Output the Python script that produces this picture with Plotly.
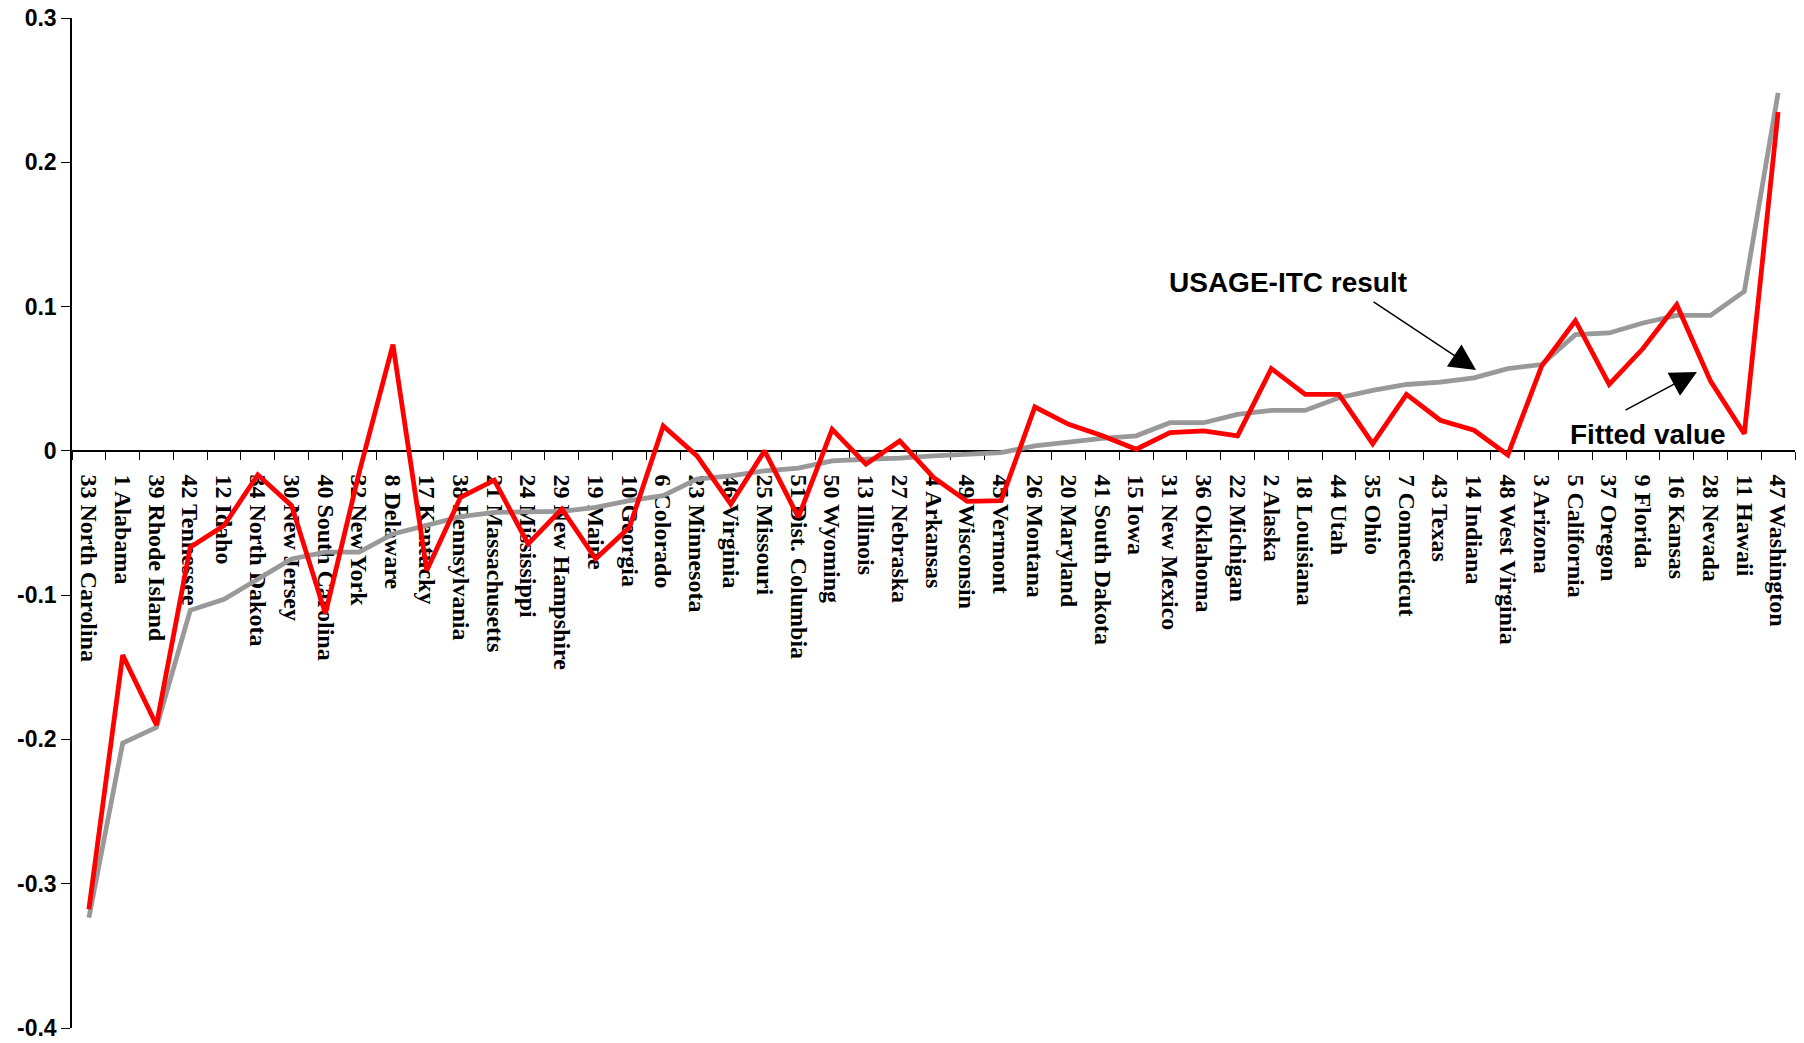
import plotly.graph_objects as go

# States ordered by the USAGE-ITC result
states = [
    "33 North Carolina", "1 Alabama", "39 Rhode Island", "42 Tennessee", "12 Idaho",
    "34 North Dakota", "30 New Jersey", "40 South Carolina", "32 New York", "8 Delaware",
    "17 Kentucky", "38 Pennsylvania", "21 Massachusetts", "24 Mississippi", "29 New Hampshire",
    "19 Maine", "10 Georgia", "6 Colorado", "23 Minnesota", "46 Virginia",
    "25 Missouri", "51 Dist. Columbia", "50 Wyoming", "13 Illinois", "27 Nebraska",
    "4 Arkansas", "49 Wisconsin", "45 Vermont", "26 Montana", "20 Maryland",
    "41 South Dakota", "15 Iowa", "31 New Mexico", "36 Oklahoma", "22 Michigan",
    "2 Alaska", "18 Louisiana", "44 Utah", "35 Ohio", "7 Connecticut",
    "43 Texas", "14 Indiana", "48 West Virginia", "3 Arizona", "5 California",
    "37 Oregon", "9 Florida", "16 Kansas", "28 Nevada", "11 Hawaii",
    "47 Washington",
]

usage_itc = [
    -0.3235, -0.2026, -0.1916, -0.1105, -0.1029,
    -0.0887, -0.0749, -0.0702, -0.0702, -0.0576,
    -0.0518, -0.0456, -0.0426, -0.0426, -0.0419,
    -0.0392, -0.0345, -0.0310, -0.0196, -0.0173,
    -0.0138, -0.0120, -0.0069, -0.0058, -0.0051,
    -0.0035, -0.0023, -0.0012, 0.0035, 0.0062,
    0.0087, 0.0104, 0.0195, 0.0195, 0.0253,
    0.0280, 0.0280, 0.0368, 0.0419, 0.0460,
    0.0477, 0.0506, 0.0570, 0.0598, 0.0805,
    0.0817, 0.0886, 0.0939, 0.0939, 0.1105,
    0.2481,
]

fitted = [
    -0.3177, -0.1416, -0.1900, -0.0668, -0.0518,
    -0.0166, -0.0380, -0.1128, -0.0150, 0.0736,
    -0.0829, -0.0322, -0.0203, -0.0645, -0.0403,
    -0.0748, -0.0530, 0.0172, -0.0035, -0.0369,
    0.0000, -0.0460, 0.0149, -0.0092, 0.0069,
    -0.0184, -0.0350, -0.0345, 0.0304, 0.0184,
    0.0104, 0.0011, 0.0126, 0.0138, 0.0104,
    0.0570, 0.0391, 0.0391, 0.0050, 0.0391,
    0.0212, 0.0143, -0.0028, 0.0587, 0.0902,
    0.0460, 0.0709, 0.1013, 0.0483, 0.0119,
    0.2348,
]

y_ticks = [0.3, 0.2, 0.1, 0, -0.1, -0.2, -0.3, -0.4]
y_range = [-0.4, 0.3]

fig = go.Figure()
fig.add_trace(go.Scatter(
    x=states, y=usage_itc, mode="lines", name="USAGE-ITC result",
    line=dict(color="#999999", width=4.8), cliponaxis=False,
))
fig.add_trace(go.Scatter(
    x=states, y=fitted, mode="lines", name="Fitted value",
    line=dict(color="#FF0000", width=4.8), cliponaxis=False,
))

# x axis sits on the zero line of the value axis
zero_pos = (0 - y_range[0]) / (y_range[1] - y_range[0])

fig.update_layout(
    width=1804, height=1043,
    margin=dict(l=72, r=9, t=18, b=15, autoexpand=False),
    paper_bgcolor="white", plot_bgcolor="white",
    showlegend=False,
    xaxis=dict(
        type="category", categoryorder="array", categoryarray=states,
        anchor="free", position=zero_pos, automargin=False,
        showline=True, linecolor="black", linewidth=1.5,
        ticks="outside", tickson="boundaries", ticklen=8, tickwidth=1, tickcolor="black",
        tickangle=90, ticklabelstandoff=18,
        tickfont=dict(family="Liberation Serif", size=24, color="black", weight="bold"),
        showgrid=False, zeroline=False,
        range=[-0.5, len(states) - 0.5],
        layer="below traces",
    ),
    yaxis=dict(
        range=y_range, tickvals=y_ticks, automargin=False,
        ticktext=[f"{v:g}" for v in y_ticks],
        showline=True, linecolor="black", linewidth=1.5,
        ticks="outside", ticklen=9, tickwidth=1, tickcolor="black",
        tickfont=dict(family="Liberation Sans", size=23, color="black", weight="bold"),
        ticklabeloverflow="allow",
        showgrid=False, zeroline=False,
    ),
    font=dict(family="Liberation Sans"),
)

label_font = dict(family="Liberation Sans", size=28, color="black", weight="bold")

fig.add_annotation(
    xref="paper", yref="paper", x=0.7057, y=0.7384, xanchor="center", yanchor="middle",
    text="USAGE-ITC result", showarrow=False, font=label_font,
)
fig.add_annotation(
    xref="paper", yref="paper", x=0.9144, y=0.5874, xanchor="center", yanchor="middle",
    text="Fitted value", showarrow=False, font=label_font,
)
# pointer arrows
fig.add_annotation(
    xref="paper", yref="paper", x=0.8149, y=0.6515, ax=-104, ay=-69,
    text="", showarrow=True, arrowhead=2, arrowsize=3.5, arrowwidth=1.5, arrowcolor="black",
)
fig.add_annotation(
    xref="paper", yref="paper", x=0.9431, y=0.6496, ax=-73, ay=39,
    text="", showarrow=True, arrowhead=2, arrowsize=3.5, arrowwidth=1.5, arrowcolor="black",
)

fig.write_html("out.html")
